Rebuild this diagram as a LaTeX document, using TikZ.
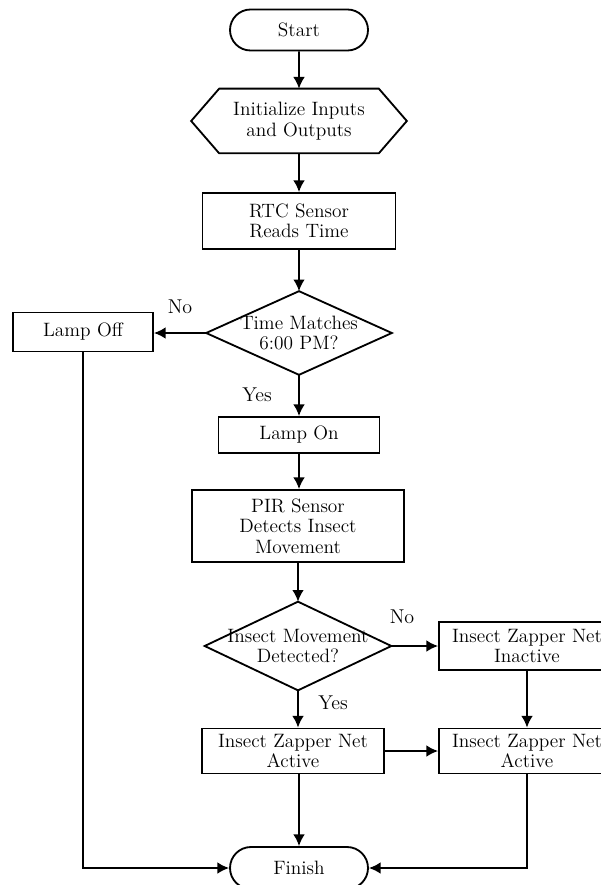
\documentclass[tikz,border=0pt]{standalone}
\usetikzlibrary{shapes.misc,arrows.meta}

\tikzset{
  flow/.style={line width=1.1pt, -{Latex[length=7pt,width=7pt]}},
  procbox/.style={draw, line width=1.1pt, rectangle, align=center, inner sep=0pt},
  termbox/.style={draw, line width=1.1pt, rounded rectangle, align=center, inner sep=0pt},
  decbox/.style={align=center, inner sep=0pt,
    append after command={\pgfextra{\draw[line width=1.1pt]
      (\tikzlastnode.north) -- (\tikzlastnode.east) -- (\tikzlastnode.south)
      -- (\tikzlastnode.west) -- cycle;}}},
  hexbox/.style={align=center, inner sep=0pt,
    append after command={\pgfextra{\draw[line width=1.1pt]
      (\tikzlastnode.north west) -- (\tikzlastnode.north east)
      -- ([xshift=16.8pt]\tikzlastnode.east) -- (\tikzlastnode.south east)
      -- (\tikzlastnode.south west) -- ([xshift=-16.8pt]\tikzlastnode.west) -- cycle;}}},
  lbl/.style={font=\fontsize{12}{13}\selectfont}
}

\begin{document}
\begin{tikzpicture}[x=0.6pt, y=-0.6pt, font=\fontsize{11.6}{12.4}\selectfont]
    \useasboundingbox (0,0) rectangle (600,885);
    \fill [white] (0,0) rectangle (600,885);

    % main column
    \node [termbox, minimum width=82.8pt, minimum height=24.6pt] (start) at (299,30) {Start};
    \node [hexbox, minimum width=95.4pt, minimum height=38.4pt] (init) at (299,121) {Initialize Inputs\\and Outputs};
    \node [procbox, minimum width=115.8pt, minimum height=33.6pt] (rtc) at (299,221) {RTC Sensor\\Reads Time};
    \node [decbox, minimum width=111pt, minimum height=49.8pt] (timechk) at (299,333) {Time Matches\\6:00 PM?};
    \node [procbox, minimum width=84pt, minimum height=23.4pt] (lampoff) at (83,332) {Lamp Off};
    \node [procbox, minimum width=96.6pt, minimum height=21.6pt] (lampon) at (299,435) {Lamp On};
    \node [procbox, minimum width=127.2pt, minimum height=43.2pt] (pir) at (298,526) {PIR Sensor\\Detects Insect\\Movement};
    \node [decbox, minimum width=111.6pt, minimum height=52.8pt] (motion) at (298,646) {Insect Movement\\Detected?};
    \node [procbox, minimum width=105.6pt, minimum height=28.8pt] (netoff) at (527,646) {Insect Zapper Net\\Inactive};
    \node [procbox, minimum width=109.2pt, minimum height=27pt] (neton) at (293,751) {Insect Zapper Net\\Active};
    \node [procbox, minimum width=105.6pt, minimum height=27pt] (netonb) at (527,751) {Insect Zapper Net\\Active};
    \node [termbox, minimum width=82.8pt, minimum height=25.2pt] (finish) at (299,868) {Finish};

    % branch labels
    \node [lbl] (no1) at (180,307) {No};
    \node [lbl] (yes1) at (257,395) {Yes};
    \node [lbl] (no2) at (402,617) {No};
    \node [lbl] (yes2) at (333,703) {Yes};

    % connectors
    \draw [flow] (start) -- (init);
    \draw [flow] (init) -- (rtc);
    \draw [flow] (rtc) -- (timechk);
    \draw [flow] (timechk.west) -- (timechk.west -| lampoff.east);
    \draw [flow] (timechk) -- (lampon);
    \draw [flow] (lampon) -- (pir.north -| lampon.south);
    \draw [flow] (pir.south -| motion.north) -- (motion.north);
    \draw [flow] (motion.east) -- (netoff.west);
    \draw [flow] (motion.south) -- (motion.south |- neton.north);
    \draw [flow] (netoff) -- (netonb);
    \draw [flow] (neton.east) -- (netonb.west);
    \draw [flow] (finish.north |- neton.south) -- (finish.north);
    \draw [flow] (lampoff.south) |- (finish.west);
    \draw [flow] (netonb.south) |- (finish.east);
\end{tikzpicture}
\end{document}
